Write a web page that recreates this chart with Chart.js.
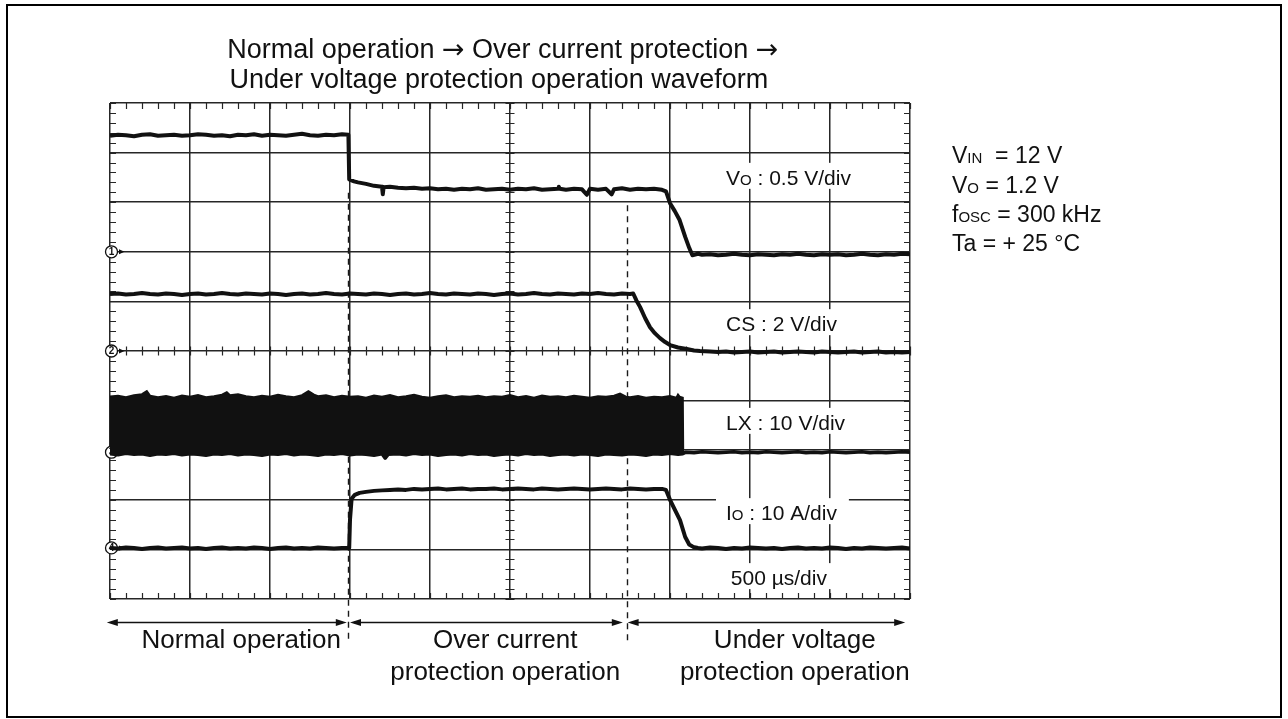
<!DOCTYPE html>
<html><head><meta charset="utf-8">
<script src="https://cdn.jsdelivr.net/npm/chart.js@4"></script>
<style>
html,body{margin:0;padding:0;background:#fff;}
#wrap{position:relative;width:1288px;height:719px;overflow:hidden;}
#frame{position:absolute;left:6px;top:4px;width:1272px;height:710px;border:2px solid #000;pointer-events:none;}
canvas{position:absolute;left:0;top:0;}
</style></head><body>
<div id="wrap"><canvas id="c" width="1288" height="719"></canvas><div id="frame"></div></div>
<script>
// ---------------- DATA (x: time in divisions of 500 us, y: screen divisions) ----------------
const voTrace = [[0,9.34],[0.1,9.36],[0.2,9.35],[0.3,9.33],[0.4,9.36],[0.5,9.37],[0.6,9.34],[0.7,9.35],[0.8,9.36],[0.9,9.34],
[1.0,9.35],[1.1,9.37],[1.2,9.36],[1.3,9.34],[1.4,9.35],[1.5,9.33],[1.6,9.36],[1.7,9.35],[1.8,9.37],[1.9,9.34],
[2.0,9.36],[2.1,9.35],[2.2,9.34],[2.3,9.36],[2.4,9.38],[2.5,9.35],[2.6,9.34],[2.7,9.36],[2.8,9.35],[2.9,9.37],
[2.98,9.36],[2.99,8.46],[3.05,8.42],[3.1,8.40],[3.2,8.37],[3.3,8.33],[3.4,8.31],[3.41,8.16],[3.42,8.30],[3.5,8.31],
[3.6,8.29],[3.7,8.28],[3.8,8.29],[3.9,8.27],[4.0,8.28],[4.1,8.26],[4.2,8.27],[4.3,8.25],[4.4,8.27],[4.5,8.26],
[4.6,8.28],[4.7,8.25],[4.8,8.26],[4.9,8.27],[5.0,8.25],[5.1,8.27],[5.2,8.26],[5.3,8.28],[5.4,8.25],[5.5,8.26],
[5.6,8.27],[5.61,8.31],[5.62,8.27],[5.7,8.25],[5.8,8.27],[5.9,8.26],[5.96,8.15],[6.0,8.27],[6.1,8.25],[6.2,8.27],
[6.27,8.16],[6.3,8.26],[6.4,8.28],[6.5,8.25],[6.6,8.27],[6.7,8.26],[6.8,8.27],[6.9,8.25],[6.95,8.22],[7.0,7.98],
[7.06,7.82],[7.12,7.64],[7.19,7.30],[7.24,7.08],[7.28,6.93],[7.35,6.96],[7.4,6.94],[7.5,6.95],[7.6,6.93],[7.7,6.94],
[7.8,6.96],[7.9,6.94],[8.0,6.93],[8.1,6.95],[8.2,6.94],[8.3,6.93],[8.4,6.95],[8.5,6.94],[8.6,6.96],[8.7,6.94],
[8.8,6.93],[8.9,6.95],[9.0,6.94],[9.1,6.95],[9.2,6.93],[9.3,6.94],[9.4,6.96],[9.5,6.94],[9.6,6.93],[9.7,6.95],
[9.8,6.94],[9.9,6.96],[10,6.95]];

const csTrace = [[0,6.15],[0.1,6.16],[0.2,6.14],[0.3,6.15],[0.4,6.17],[0.5,6.15],[0.6,6.14],[0.7,6.16],[0.8,6.15],[0.9,6.13],
[1.0,6.15],[1.1,6.16],[1.2,6.14],[1.3,6.15],[1.4,6.17],[1.5,6.15],[1.6,6.14],[1.7,6.16],[1.8,6.15],[1.9,6.14],
[2.0,6.16],[2.1,6.15],[2.2,6.13],[2.3,6.15],[2.4,6.16],[2.5,6.14],[2.6,6.15],[2.7,6.17],[2.8,6.15],[2.9,6.14],
[3.0,6.16],[3.1,6.15],[3.2,6.14],[3.3,6.16],[3.4,6.15],[3.5,6.13],[3.6,6.15],[3.7,6.16],[3.8,6.14],[3.9,6.15],
[4.0,6.17],[4.1,6.15],[4.2,6.14],[4.3,6.16],[4.4,6.15],[4.5,6.14],[4.6,6.16],[4.7,6.15],[4.8,6.13],[4.9,6.15],
[5.0,6.16],[5.1,6.14],[5.2,6.15],[5.3,6.17],[5.4,6.15],[5.5,6.14],[5.6,6.16],[5.7,6.15],[5.8,6.14],[5.9,6.16],
[6.0,6.15],[6.1,6.17],[6.2,6.15],[6.3,6.14],[6.4,6.16],[6.5,6.15],[6.54,6.16],[6.58,6.02],[6.625,5.89],[6.69,5.66],
[6.75,5.48],[6.81,5.36],[6.875,5.26],[6.94,5.18],[7.0,5.12],[7.1,5.07],[7.21,5.04],[7.3,5.01],[7.375,5.0],[7.5,4.99],
[7.6,4.98],[7.7,4.99],[7.8,4.97],[7.9,4.98],[8.0,4.99],[8.1,4.97],[8.2,4.98],[8.3,4.99],[8.4,4.97],[8.5,4.98],
[8.6,4.99],[8.7,4.98],[8.8,4.97],[8.9,4.99],[9.0,4.98],[9.1,4.97],[9.2,4.98],[9.3,4.99],[9.4,4.97],[9.5,4.98],
[9.6,4.99],[9.7,4.97],[9.8,4.98],[9.9,4.97],[10,4.98]];

const lxHighTrace = [[0,4.08],[0.1,4.10],[0.2,4.07],[0.3,4.11],[0.4,4.13],[0.46,4.19],[0.5,4.10],[0.6,4.07],[0.7,4.09],[0.8,4.06],
[0.9,4.10],[1.0,4.08],[1.1,4.11],[1.2,4.07],[1.3,4.09],[1.4,4.12],[1.46,4.17],[1.5,4.11],[1.6,4.13],[1.7,4.09],
[1.8,4.07],[1.9,4.10],[2.0,4.08],[2.1,4.12],[2.2,4.09],[2.3,4.07],[2.4,4.11],[2.48,4.19],[2.55,4.12],[2.6,4.09],
[2.7,4.11],[2.8,4.07],[2.9,4.10],[3.0,4.08],[3.1,4.09],[3.2,4.06],[3.3,4.10],[3.4,4.08],[3.5,4.11],[3.6,4.07],
[3.7,4.09],[3.8,4.12],[3.9,4.08],[4.0,4.06],[4.1,4.09],[4.2,4.11],[4.3,4.07],[4.4,4.09],[4.5,4.08],[4.6,4.10],
[4.7,4.07],[4.8,4.09],[4.9,4.08],[5.0,4.11],[5.1,4.07],[5.2,4.09],[5.3,4.06],[5.4,4.10],[5.5,4.08],[5.6,4.09],
[5.7,4.07],[5.8,4.10],[5.9,4.08],[6.0,4.06],[6.1,4.09],[6.2,4.08],[6.3,4.10],[6.375,4.14],[6.45,4.08],[6.5,4.07],
[6.6,4.09],[6.7,4.06],[6.8,4.08],[6.9,4.07],[7.0,4.09],[7.08,4.06],[7.1,4.12],[7.12,4.08],[7.16,4.06],[7.165,2.95]];

const lxLowTrace = [[0,2.93],[0.1,2.91],[0.2,2.94],[0.3,2.92],[0.4,2.93],[0.5,2.90],[0.6,2.93],[0.7,2.92],[0.8,2.94],[0.9,2.91],
[1.0,2.93],[1.1,2.92],[1.2,2.90],[1.3,2.93],[1.4,2.92],[1.5,2.94],[1.6,2.91],[1.7,2.93],[1.8,2.92],[1.9,2.90],
[2.0,2.93],[2.1,2.92],[2.2,2.94],[2.3,2.91],[2.4,2.93],[2.5,2.92],[2.6,2.90],[2.7,2.93],[2.8,2.92],[2.9,2.94],
[3.0,2.91],[3.1,2.93],[3.2,2.92],[3.3,2.90],[3.4,2.93],[3.44,2.84],[3.48,2.92],[3.6,2.93],[3.7,2.91],[3.8,2.94],
[3.9,2.92],[4.0,2.93],[4.1,2.90],[4.2,2.92],[4.3,2.93],[4.4,2.91],[4.5,2.94],[4.6,2.92],[4.7,2.93],[4.8,2.90],
[4.9,2.92],[5.0,2.93],[5.1,2.91],[5.2,2.94],[5.3,2.92],[5.4,2.93],[5.5,2.90],[5.6,2.92],[5.7,2.93],[5.8,2.91],
[5.9,2.93],[6.0,2.92],[6.1,2.90],[6.2,2.93],[6.3,2.92],[6.4,2.91],[6.5,2.93],[6.6,2.92],[6.7,2.90],[6.8,2.93],
[6.9,2.92],[7.0,2.94],[7.1,2.92],[7.16,2.93],[7.2,2.96],[7.3,2.95],[7.4,2.97],[7.5,2.96],[7.6,2.95],[7.7,2.96],
[7.8,2.97],[7.9,2.95],[8.0,2.96],[8.1,2.95],[8.2,2.97],[8.3,2.96],[8.4,2.95],[8.5,2.96],[8.6,2.97],[8.7,2.95],
[8.8,2.96],[8.9,2.95],[9.0,2.97],[9.1,2.96],[9.2,2.95],[9.3,2.96],[9.4,2.97],[9.5,2.95],[9.6,2.96],[9.7,2.95],
[9.8,2.96],[9.9,2.97],[10,2.96]];

const ioTrace = [[0,1.03],[0.1,1.02],[0.2,1.04],[0.3,1.03],[0.4,1.01],[0.5,1.03],[0.6,1.04],[0.7,1.02],[0.8,1.03],[0.9,1.04],
[1.0,1.02],[1.1,1.03],[1.2,1.01],[1.3,1.03],[1.4,1.04],[1.5,1.02],[1.6,1.03],[1.7,1.02],[1.8,1.04],[1.9,1.03],
[2.0,1.01],[2.1,1.03],[2.2,1.04],[2.3,1.02],[2.4,1.03],[2.5,1.02],[2.6,1.04],[2.7,1.03],[2.8,1.02],[2.9,1.03],
[2.99,1.03],[3.0,1.6],[3.02,2.02],[3.06,2.10],[3.12,2.14],[3.2,2.16],[3.3,2.18],[3.4,2.19],[3.5,2.20],[3.6,2.21],
[3.7,2.20],[3.8,2.22],[3.9,2.21],[4.0,2.22],[4.1,2.23],[4.2,2.21],[4.3,2.22],[4.4,2.23],[4.5,2.21],[4.6,2.22],
[4.7,2.22],[4.8,2.23],[4.9,2.21],[5.0,2.22],[5.1,2.23],[5.2,2.22],[5.3,2.21],[5.4,2.23],[5.5,2.22],[5.6,2.21],
[5.7,2.22],[5.8,2.23],[5.9,2.22],[6.0,2.21],[6.1,2.22],[6.2,2.23],[6.3,2.22],[6.4,2.21],[6.5,2.23],[6.6,2.22],
[6.7,2.21],[6.8,2.22],[6.9,2.22],[6.95,2.20],[7.0,2.0],[7.06,1.80],[7.125,1.59],[7.19,1.25],[7.24,1.10],[7.29,1.05],
[7.35,1.03],[7.4,1.02],[7.5,1.04],[7.6,1.03],[7.7,1.01],[7.8,1.03],[7.9,1.02],[8.0,1.04],[8.1,1.03],[8.2,1.02],
[8.3,1.03],[8.4,1.01],[8.5,1.03],[8.6,1.04],[8.7,1.02],[8.8,1.03],[8.9,1.02],[9.0,1.04],[9.1,1.03],[9.2,1.01],
[9.3,1.03],[9.4,1.02],[9.5,1.04],[9.6,1.03],[9.7,1.02],[9.8,1.03],[9.9,1.04],[10,1.02]];

const xDivs = [0, 10];                 // horizontal divisions (500 us/div)
const yDivs = [0, 10];                 // vertical divisions
const minorStep = 0.2;                 // minor graticule step
const groundLevels = [7.0, 5.0, 2.96, 1.03];   // channel ground markers 1..4
const groundNames = ['1', '2', '3', '4'];
const phaseBounds = [2.975, 6.46];     // dashed phase boundaries (divisions)
const phaseDashTop = [8.19, 7.94];
const arrowSpans = [[-0.04, 2.96], [3.0, 6.41], [6.47, 9.94]];
const phaseLabelX = [1.64, 4.94, 8.56];
const phaseLabels = [['Normal operation'], ['Over current', 'protection operation'], ['Under voltage', 'protection operation']];
const chLabelParts = [
  [['V', 21], ['O', 15], [' : 0.5 V/div', 21]],
  [['CS : 2 V/div', 21]],
  [['LX : 10 V/div', 21]],
  [['I', 21], ['O', 15], [' : 10 A/div', 21]],
  [['500 \u00b5s/div', 21]]
];
const chLabelX = [7.7, 7.7, 7.7, 7.7, 7.76];
const chLabelY = [8.35, 5.40, 3.41, 1.59, 0.28];
const titleLines = [
  [['Normal operation ', 27], ['\u2192', 27, 'a'], [' Over current protection ', 27], ['\u2192', 27, 'a']],
  [['Under voltage protection operation waveform', 27]]
];
const condLines = [
  [['V', 23], ['IN', 15], ['  = 12 V', 23]],
  [['V', 23], ['O', 15], [' = 1.2 V', 23]],
  [['f', 23], ['OSC', 15], [' = 300 kHz', 23]],
  [['Ta = + 25 \u00b0C', 23]]
];
const condY = [8.79, 8.19, 7.60, 7.02];

// ---------------- RENDERING ----------------
const FONT = '"Liberation Sans", Arial, Helvetica, sans-serif';
const ARROWFONT = '"DejaVu Sans", sans-serif';
const INK = '#111';
const toPts = arr => arr.map(p => ({x: p[0], y: p[1]}));

function setFont(ctx, p) { ctx.font = p[1] + 'px ' + (p[2] === 'a' ? ARROWFONT : FONT); }
function richWidth(ctx, parts) {
  let w = 0;
  for (const p of parts) { setFont(ctx, p); w += ctx.measureText(p[0]).width; }
  return w;
}
function drawRich(ctx, parts, x, y) {
  for (const p of parts) {
    setFont(ctx, p);
    ctx.fillText(p[0], x, y);
    x += ctx.measureText(p[0]).width;
  }
}
function arrowHead(ctx, x, y, dir) {
  ctx.beginPath();
  ctx.moveTo(x, y);
  ctx.lineTo(x - dir * 11, y - 3.5);
  ctx.lineTo(x - dir * 11, y + 3.5);
  ctx.closePath();
  ctx.fill();
}

const scopePlugin = {
  id: 'scope',
  beforeDatasetsDraw(chart) {
    const ctx = chart.ctx, xs = chart.scales.x, ys = chart.scales.y, a = chart.chartArea;
    ctx.save();
    ctx.strokeStyle = '#262626';
    ctx.lineWidth = 1.2;
    const xc = xs.getPixelForValue(5), yc = ys.getPixelForValue(5);
    ctx.beginPath();
    for (let v = xDivs[0]; v <= xDivs[1] + 1e-6; v += minorStep) {
      const px = Math.round(xs.getPixelForValue(v)) + 0.5;
      ctx.moveTo(px, a.top); ctx.lineTo(px, a.top + 6);
      ctx.moveTo(px, a.bottom); ctx.lineTo(px, a.bottom - 6);
      ctx.moveTo(px, yc - 4.5); ctx.lineTo(px, yc + 4.5);
    }
    for (let v = yDivs[0]; v <= yDivs[1] + 1e-6; v += minorStep) {
      const py = Math.round(ys.getPixelForValue(v)) + 0.5;
      ctx.moveTo(a.left, py); ctx.lineTo(a.left + 6, py);
      ctx.moveTo(a.right, py); ctx.lineTo(a.right - 6, py);
      ctx.moveTo(xc - 4.5, py); ctx.lineTo(xc + 4.5, py);
    }
    ctx.stroke();

    // channel scale labels with white boxes
    ctx.textBaseline = 'alphabetic';
    ctx.textAlign = 'left';
    chLabelParts.forEach((parts, i) => {
      const x = xs.getPixelForValue(chLabelX[i]);
      const y = ys.getPixelForValue(chLabelY[i]);
      const w = richWidth(ctx, parts);
      ctx.fillStyle = '#fff';
      ctx.fillRect(x - 10, y - 22, w + 22, 26);
      ctx.fillStyle = INK;
      drawRich(ctx, parts, x, y);
    });

    // dashed phase boundaries
    ctx.setLineDash([6, 5]);
    ctx.lineWidth = 1.4;
    ctx.strokeStyle = '#1a1a1a';
    phaseBounds.forEach((b, i) => {
      const px = Math.round(xs.getPixelForValue(b)) + 0.5;
      ctx.beginPath();
      ctx.moveTo(px, ys.getPixelForValue(phaseDashTop[i]));
      ctx.lineTo(px, a.bottom + 42);
      ctx.stroke();
    });
    ctx.setLineDash([]);

    // ground markers
    groundLevels.forEach((g, i) => {
      const cx = a.left + 1.5, cy = ys.getPixelForValue(g);
      ctx.beginPath();
      ctx.arc(cx, cy, 6, 0, Math.PI * 2);
      ctx.fillStyle = '#fff';
      ctx.fill();
      ctx.lineWidth = 1.3;
      ctx.strokeStyle = '#111';
      ctx.stroke();
      ctx.fillStyle = '#111';
      ctx.font = 'bold 10px ' + FONT;
      ctx.textAlign = 'center';
      ctx.textBaseline = 'middle';
      ctx.fillText(groundNames[i], cx, cy + 0.5);
      ctx.beginPath();
      ctx.moveTo(cx + 13, cy);
      ctx.lineTo(cx + 7.5, cy - 2.5);
      ctx.lineTo(cx + 7.5, cy + 2.5);
      ctx.closePath();
      ctx.fill();
    });
    ctx.restore();
  },
  afterDraw(chart) {
    const ctx = chart.ctx, xs = chart.scales.x, ys = chart.scales.y, a = chart.chartArea;
    ctx.save();
    ctx.fillStyle = INK;
    ctx.strokeStyle = INK;
    ctx.textBaseline = 'alphabetic';
    ctx.textAlign = 'left';
    // title
    const tcx = [xs.getPixelForValue(4.91), xs.getPixelForValue(4.86)];
    titleLines.forEach((parts, i) => {
      const w = richWidth(ctx, parts);
      drawRich(ctx, parts, tcx[i] - w / 2, a.top - 45 + i * 30);
    });

    // phase arrows
    const ay = a.bottom + 23.5;
    ctx.lineWidth = 1.4;
    arrowSpans.forEach(s => {
      const x1 = xs.getPixelForValue(s[0]), x2 = xs.getPixelForValue(s[1]);
      ctx.beginPath();
      ctx.moveTo(x1 + 4, ay); ctx.lineTo(x2 - 4, ay);
      ctx.stroke();
      arrowHead(ctx, x1, ay, -1);
      arrowHead(ctx, x2, ay, 1);
    });
    // phase labels
    ctx.font = '26px ' + FONT;
    ctx.textAlign = 'center';
    phaseLabels.forEach((lines, i) => {
      const x = xs.getPixelForValue(phaseLabelX[i]);
      lines.forEach((t, j) => ctx.fillText(t, x, a.bottom + 49 + j * 32));
    });

    // operating conditions
    ctx.textAlign = 'left';
    condLines.forEach((parts, i) => {
      drawRich(ctx, parts, a.right + 42, ys.getPixelForValue(condY[i]));
    });
    ctx.restore();
  }
};

const traceStyle = {borderColor: INK, borderWidth: 4, pointRadius: 0, fill: false, tension: 0, borderJoinStyle: 'round'};

new Chart(document.getElementById('c'), {
  type: 'line',
  data: {
    datasets: [
      Object.assign({label: 'VO', data: toPts(voTrace)}, traceStyle),
      Object.assign({label: 'CS', data: toPts(csTrace)}, traceStyle),
      {label: 'LX high', data: toPts(lxHighTrace), borderColor: INK, borderWidth: 2, pointRadius: 0, tension: 0, fill: '+1', backgroundColor: INK},
      Object.assign({label: 'LX', data: toPts(lxLowTrace)}, traceStyle, {borderWidth: 3.5}),
      Object.assign({label: 'IO', data: toPts(ioTrace)}, traceStyle)
    ]
  },
  options: {
    responsive: false,
    animation: false,
    devicePixelRatio: 1,
    layout: {padding: {left: 110, top: 103, right: 378, bottom: 120}},
    plugins: {legend: {display: false}, tooltip: {enabled: false}, title: {display: false}},
    scales: {
      x: {type: 'linear', min: xDivs[0], max: xDivs[1], ticks: {display: false, stepSize: 1},
          grid: {color: '#262626', lineWidth: 1.5, drawTicks: false}, border: {display: false}},
      y: {type: 'linear', min: yDivs[0], max: yDivs[1], ticks: {display: false, stepSize: 1},
          grid: {color: '#262626', lineWidth: 1.5, drawTicks: false}, border: {display: false}}
    }
  },
  plugins: [scopePlugin]
});
</script>
</body></html>
